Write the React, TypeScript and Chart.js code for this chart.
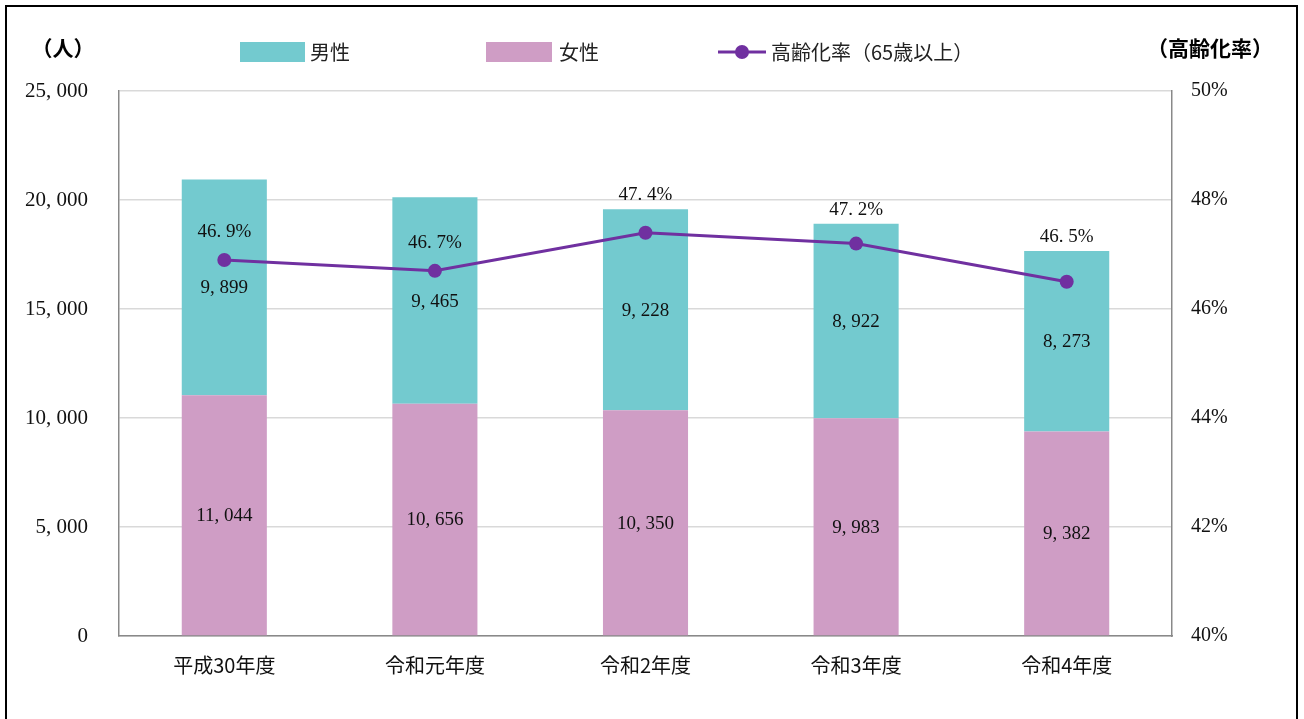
import React, { useEffect, useRef } from "react";
import { Chart, registerables } from "chart.js";

Chart.register(...registerables);

const categories = ["平成30年度", "令和元年度", "令和2年度", "令和3年度", "令和4年度"];
const femaleValues = [11044, 10656, 10350, 9983, 9382];
const maleValues = [9899, 9465, 9228, 8922, 8273];
const agingRates = [46.9, 46.7, 47.4, 47.2, 46.5];
const leftTicks = [0, 5000, 10000, 15000, 20000, 25000];
const rightTicks = [40, 42, 44, 46, 48, 50];

const TEAL = "#73CACF";
const PINK = "#CF9DC5";
const PURPLE = "#7030A0";
const NUM_FONT = "'Liberation Serif', 'Noto Sans CJK JP', serif";
const CJK_FONT = "'Noto Sans CJK JP', 'Noto Sans', sans-serif";

const fmtNum = (v: number) => v.toLocaleString("en-US").replace(/,/g, ", ");
const fmtPct = (v: number) => v.toFixed(1).replace(".", ". ") + "%";

const overlayPlugin = {
  id: "overlay",
  afterDatasetsDraw(chart: any) {
    const ctx = chart.ctx;
    ctx.save();
    ctx.font = `19px ${NUM_FONT}`;
    ctx.fillStyle = "#111";
    ctx.textAlign = "center";
    ctx.textBaseline = "middle";
    [0, 1].forEach((di) => {
      const meta = chart.getDatasetMeta(di);
      const vals = chart.data.datasets[di].data as number[];
      meta.data.forEach((el: any, i: number) => {
        const cy = (el.y + el.base) / 2;
        ctx.fillText(fmtNum(vals[i]), el.x, cy + 1);
      });
    });
    const lineMeta = chart.getDatasetMeta(2);
    const maleMeta = chart.getDatasetMeta(1);
    lineMeta.data.forEach((pt: any, i: number) => {
      const barTop = maleMeta.data[i].y;
      let ly = pt.y - 28;
      if (ly < barTop + 10) ly = barTop - 14;
      ctx.fillText(fmtPct(agingRates[i]), pt.x, ly);
    });
    ctx.restore();
  },
  afterDraw(chart: any) {
    const ctx = chart.ctx;
    ctx.save();
    ctx.fillStyle = "#000";
    ctx.textBaseline = "middle";
    ctx.textAlign = "center";
    ctx.font = `bold 21px ${CJK_FONT}`;
    ctx.fillText("（人）", 56, 41);
    ctx.fillText("（高齢化率）", 1203, 41);

    const ly = 45;
    ctx.font = `20px ${CJK_FONT}`;
    ctx.textAlign = "left";
    ctx.fillStyle = TEAL;
    ctx.fillRect(233, ly - 10, 65, 20);
    ctx.fillStyle = "#222";
    ctx.fillText("男性", 303, ly);
    ctx.fillStyle = PINK;
    ctx.fillRect(479, ly - 10, 66, 20);
    ctx.fillStyle = "#222";
    ctx.fillText("女性", 552, ly);
    ctx.strokeStyle = PURPLE;
    ctx.lineWidth = 3;
    ctx.beginPath();
    ctx.moveTo(711, ly);
    ctx.lineTo(759, ly);
    ctx.stroke();
    ctx.fillStyle = PURPLE;
    ctx.beginPath();
    ctx.arc(735, ly, 7, 0, Math.PI * 2);
    ctx.fill();
    ctx.fillStyle = "#222";
    ctx.fillText("高齢化率（65歳以上）", 764, ly);
    ctx.restore();
  },
};

export default function App() {
  const ref = useRef<HTMLCanvasElement | null>(null);
  useEffect(() => {
    if (!ref.current) return;
    const chart = new Chart(ref.current, {
      type: "bar",
      data: {
        labels: categories,
        datasets: [
          {
            type: "bar",
            label: "女性",
            data: femaleValues,
            backgroundColor: PINK,
            yAxisID: "y",
            stack: "pop",
            order: 1,
            barPercentage: 0.404,
            categoryPercentage: 1,
          },
          {
            type: "bar",
            label: "男性",
            data: maleValues,
            backgroundColor: TEAL,
            yAxisID: "y",
            stack: "pop",
            order: 1,
            barPercentage: 0.404,
            categoryPercentage: 1,
          },
          {
            type: "line",
            label: "高齢化率（65歳以上）",
            data: agingRates,
            borderColor: PURPLE,
            backgroundColor: PURPLE,
            borderWidth: 3,
            pointRadius: 7,
            pointBorderWidth: 0,
            pointBackgroundColor: PURPLE,
            yAxisID: "y1",
            stack: "rate",
            order: 0,
          } as any,
        ],
      },
      options: {
        responsive: false,
        animation: false,
        layout: { padding: { top: 84, left: 0, right: 0, bottom: 0 } },
        plugins: {
          legend: { display: false },
          title: { display: false },
          tooltip: { enabled: false },
        },
        scales: {
          x: {
            stacked: true,
            grid: { display: false, drawTicks: false },
            border: { display: true, color: "#898989", width: 1.5 },
            ticks: {
              padding: 17,
              color: "#111",
              font: { family: CJK_FONT, size: 20 },
            },
            afterFit: (s: any) => {
              s.height = 87;
            },
          },
          y: {
            stacked: true,
            position: "left",
            min: 0,
            max: 25000,
            afterBuildTicks: (s: any) => {
              s.ticks = leftTicks.map((v) => ({ value: v }));
            },
            grid: { color: "#d9d9d9", lineWidth: 1.5, drawTicks: false },
            border: { display: true, color: "#898989", width: 1.5 },
            ticks: {
              padding: 31,
              color: "#111",
              font: { family: NUM_FONT, size: 21 },
              callback: (v: any) => fmtNum(Number(v)),
            },
            afterFit: (s: any) => {
              s.width = 112;
            },
          },
          y1: {
            position: "right",
            min: 40,
            max: 50,
            afterBuildTicks: (s: any) => {
              s.ticks = rightTicks.map((v) => ({ value: v }));
            },
            grid: { display: false, drawTicks: false },
            border: { display: true, color: "#898989", width: 1.5 },
            ticks: {
              padding: 19,
              color: "#111",
              font: { family: NUM_FONT, size: 20 },
              callback: (v: any) => `${v}%`,
            },
            afterFit: (s: any) => {
              s.width = 124;
            },
          },
        },
      },
      plugins: [overlayPlugin],
    });
    return () => chart.destroy();
  }, []);

  return (
    <div
      style={{
        position: "fixed",
        left: 5,
        top: 5,
        width: 1289,
        height: 716,
        border: "2px solid #000",
        background: "#fff",
      }}
    >
      <canvas ref={ref} width={1289} height={716} style={{ display: "block" }} />
    </div>
  );
}
